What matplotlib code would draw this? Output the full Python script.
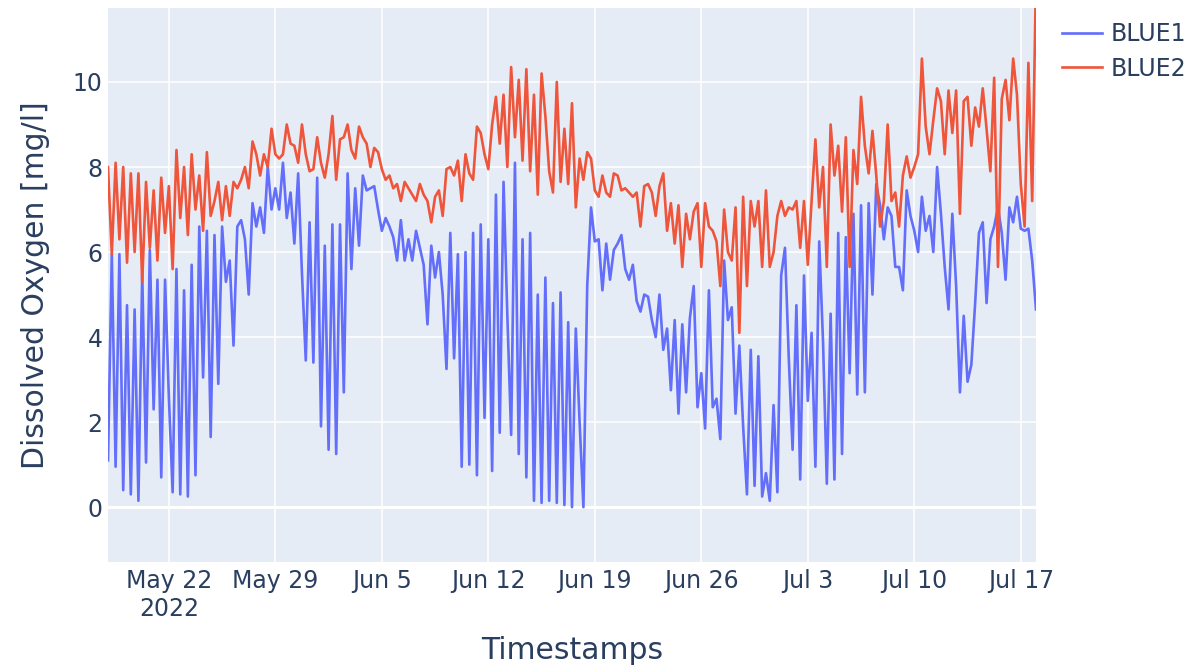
import numpy as np
import pandas as pd
import matplotlib
matplotlib.use("Agg")
import matplotlib.pyplot as plt

# dissolved oxygen readings every 6 hours, one row per day starting 2022-05-18
blue1 = [
    1.1, 5.95, 0.95, 5.95,   # May 18
    0.4, 4.75, 0.3, 4.65,
    0.15, 5.5, 1.05, 6.05,
    2.3, 5.35, 0.7, 5.35,
    2.6, 0.35, 5.6, 0.3,     # May 22
    5.1, 0.25, 5.7, 0.75,
    6.6, 3.05, 6.5, 1.65,
    6.4, 2.9, 6.6, 5.3,
    5.8, 3.8, 6.6, 6.75,
    6.3, 5.0, 7.15, 6.6,
    7.05, 6.45, 8.0, 7.0,
    7.5, 7.0, 8.1, 6.8,      # May 29
    7.4, 6.2, 7.85, 5.5,
    3.45, 6.7, 3.4, 7.75,
    1.9, 6.15, 1.35, 6.65,
    1.25, 6.65, 2.7, 7.85,
    5.6, 7.5, 6.15, 7.8,
    7.45, 7.5, 7.55, 7.0,
    6.5, 6.8, 6.6, 6.35,     # Jun 5
    5.8, 6.75, 5.8, 6.3,
    5.8, 6.5, 6.1, 5.7,
    4.3, 6.15, 5.4, 6.0,
    5.0, 3.25, 6.45, 3.5,
    5.95, 0.95, 6.0, 1.0,
    6.45, 0.75, 6.65, 2.1,
    6.3, 0.85, 7.35, 1.75,   # Jun 12
    7.65, 4.5, 1.7, 8.1,
    1.25, 6.3, 0.7, 6.45,
    0.15, 5.0, 0.1, 5.4,
    0.15, 4.8, 0.1, 5.05,
    0.05, 4.35, 0.0, 4.2,
    2.0, 0.0, 5.2, 7.05,
    6.25, 6.3, 5.1, 6.2,     # Jun 19
    5.35, 6.05, 6.2, 6.4,
    5.6, 5.35, 5.7, 4.85,
    4.6, 5.0, 4.95, 4.4,
    4.0, 5.0, 3.7, 4.2,
    2.75, 4.4, 2.2, 4.3,
    2.7, 4.45, 5.2, 2.35,
    3.15, 1.85, 5.1, 2.35,   # Jun 26
    2.55, 1.6, 5.8, 4.4,
    4.7, 2.2, 3.8, 1.9,
    0.3, 3.7, 0.5, 3.55,
    0.25, 0.8, 0.15, 2.4,
    0.35, 5.45, 6.1, 3.5,
    1.35, 4.75, 0.65, 5.45,
    2.5, 4.1, 0.95, 6.25,    # Jul 3
    3.9, 0.55, 4.55, 0.65,
    6.45, 1.25, 6.35, 3.15,
    6.9, 2.65, 7.1, 2.7,
    7.15, 5.0, 7.6, 7.1,
    6.3, 7.05, 6.85, 5.65,
    5.65, 5.1, 7.45, 6.85,
    6.5, 6.0, 7.3, 6.5,      # Jul 10
    6.85, 6.0, 8.0, 6.9,
    5.65, 4.65, 6.9, 5.2,
    2.7, 4.5, 2.95, 3.35,
    4.8, 6.45, 6.7, 4.8,
    6.3, 6.6, 7.05, 6.45,
    5.35, 7.05, 6.7, 7.3,
    6.55, 6.5, 6.55, 5.8,    # Jul 17
    4.65,
]

blue2 = [
    8.0, 5.95, 8.1, 6.3,     # May 18
    8.0, 5.75, 7.85, 6.0,
    7.85, 5.3, 7.65, 6.1,
    7.45, 5.8, 7.75, 6.45,
    7.55, 5.6, 8.4, 6.8,     # May 22
    8.0, 6.4, 8.3, 7.0,
    7.8, 6.5, 8.35, 6.85,
    7.2, 7.65, 6.75, 7.55,
    6.85, 7.65, 7.5, 7.7,
    8.0, 7.5, 8.6, 8.3,
    7.8, 8.3, 8.0, 8.9,
    8.3, 8.2, 8.3, 9.0,      # May 29
    8.55, 8.5, 8.1, 9.0,
    8.3, 7.9, 7.95, 8.7,
    8.1, 7.75, 8.3, 9.2,
    7.7, 8.65, 8.7, 9.0,
    8.4, 8.2, 8.95, 8.7,
    8.55, 8.0, 8.45, 8.35,
    7.95, 7.7, 7.8, 7.5,     # Jun 5
    7.6, 7.2, 7.65, 7.5,
    7.35, 7.2, 7.6, 7.35,
    7.2, 6.7, 7.3, 7.45,
    6.85, 7.95, 8.0, 7.8,
    8.15, 7.2, 8.3, 7.85,
    7.7, 8.95, 8.8, 8.3,
    7.95, 9.0, 9.65, 8.55,   # Jun 12
    9.7, 8.0, 10.35, 8.7,
    10.05, 8.15, 10.3, 7.9,
    9.7, 7.35, 10.2, 9.2,
    7.9, 7.4, 10.0, 7.65,
    8.9, 7.6, 9.5, 7.05,
    8.2, 7.7, 8.35, 8.2,
    7.45, 7.3, 7.8, 7.4,     # Jun 19
    7.3, 7.85, 7.8, 7.45,
    7.5, 7.4, 7.3, 7.4,
    6.6, 7.55, 7.6, 7.4,
    6.85, 7.55, 7.85, 6.5,
    7.15, 6.2, 7.1, 5.65,
    6.9, 6.3, 6.95, 7.15,
    5.65, 7.15, 6.6, 6.5,    # Jun 26
    6.25, 5.2, 7.0, 6.0,
    5.8, 7.05, 4.1, 7.3,
    5.2, 7.2, 6.6, 7.2,
    5.65, 7.45, 5.65, 6.0,
    6.85, 7.2, 6.85, 7.05,
    7.0, 7.2, 6.1, 7.2,
    5.7, 7.2, 8.65, 7.05,    # Jul 3
    8.0, 5.65, 9.0, 7.8,
    8.5, 6.95, 8.7, 5.65,
    8.4, 7.6, 9.65, 8.5,
    7.85, 8.85, 7.8, 6.6,
    7.2, 9.0, 7.2, 7.4,
    6.6, 7.8, 8.25, 7.75,
    8.0, 8.3, 10.55, 8.95,   # Jul 10
    8.3, 9.1, 9.85, 9.55,
    8.3, 9.8, 8.8, 9.8,
    6.9, 9.55, 9.65, 8.5,
    9.4, 8.95, 9.85, 8.9,
    7.9, 10.1, 5.65, 9.6,
    10.05, 9.1, 10.55, 9.7,
    7.6, 6.6, 10.45, 7.2,    # Jul 17
    12.5,
]

timestamps = pd.date_range("2022-05-18", periods=len(blue1), freq="6h")

tick_dates = pd.to_datetime(["2022-05-22", "2022-05-29", "2022-06-05", "2022-06-12",
                             "2022-06-19", "2022-06-26", "2022-07-03", "2022-07-10",
                             "2022-07-17"])
tick_labels = ["May 22\n2022", "May 29", "Jun 5", "Jun 12", "Jun 19", "Jun 26",
               "Jul 3", "Jul 10", "Jul 17"]

plt.rcParams["font.family"] = ["DejaVu Sans"]
text_color = "#2a3f5f"

fig = plt.figure(figsize=(11.94, 6.68), dpi=100)
ax = fig.add_axes([108 / 1194, 106 / 668, 928 / 1194, 554 / 668])
ax.set_facecolor("#E5ECF6")
for s in ax.spines.values():
    s.set_visible(False)

ax.plot(timestamps, blue1, color="#636EFA", linewidth=1.9, label="BLUE1")
ax.plot(timestamps, blue2, color="#EF553B", linewidth=1.9, label="BLUE2")

ax.set_xlim(timestamps[0], timestamps[-1])
ax.set_ylim(-1.29, 11.74)
ax.set_yticks([0, 2, 4, 6, 8, 10])
ax.set_xticks(tick_dates)
ax.set_xticklabels(tick_labels, linespacing=1.2)
ax.grid(True, color="white", linewidth=1.1)
ax.axhline(0, color="white", linewidth=2.2, zorder=1)
ax.set_axisbelow(True)
ax.tick_params(length=0, labelsize=17, colors=text_color)
ax.tick_params(axis="y", pad=4)
ax.tick_params(axis="x", pad=5)

ax.set_xlabel("Timestamps", fontsize=21.5, color=text_color, labelpad=11)
ax.set_ylabel("Dissolved Oxygen [mg/l]", fontsize=21.5, color=text_color, labelpad=16)

fig.legend(loc="upper left", bbox_to_anchor=(1062 / 1194, 1 - 22 / 668), frameon=False,
           fontsize=17, labelcolor=text_color, handlelength=1.7, handletextpad=0.35,
           labelspacing=0.45, borderpad=0, borderaxespad=0)

fig.savefig("out.png", dpi=100)
